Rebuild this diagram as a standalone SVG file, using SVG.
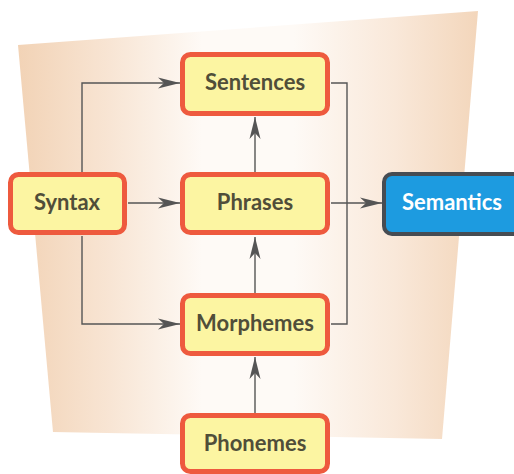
<svg xmlns="http://www.w3.org/2000/svg" width="514" height="474" viewBox="0 0 514 474">
  <defs>
    <linearGradient id="bgGrad" x1="18" y1="0" x2="478" y2="0" gradientUnits="userSpaceOnUse">
      <stop offset="0" stop-color="#f2d3b6"/>
      <stop offset="0.2" stop-color="#f8e5d4"/>
      <stop offset="0.4" stop-color="#fefaf6"/>
      <stop offset="0.6" stop-color="#fefaf6"/>
      <stop offset="0.82" stop-color="#f9e8d9"/>
      <stop offset="1" stop-color="#f3d6bb"/>
    </linearGradient>
    <marker id="arrow" viewBox="-23 -6 24 12" refX="0" refY="0" markerWidth="24" markerHeight="12" markerUnits="userSpaceOnUse" orient="auto">
      <path d="M0,0 L-22,-5.5 L-16,0 L-22,5.5 Z" fill="#555555"/>
    </marker>
    <style>
      .box rect { fill: #fcf5a2; stroke: #ee5a3e; stroke-width: 5; }
      .box text { font-family: "Lato", "Open Sans", sans-serif; font-weight: bold; font-size: 22px; fill: #504e39; text-anchor: middle; }
      .sem rect { fill: #1d9be0; stroke: #474c52; stroke-width: 4; }
      .sem text { font-family: "Lato", "Open Sans", sans-serif; font-weight: bold; font-size: 22px; fill: #ffffff; text-anchor: middle; }
      .conn path { fill: none; stroke: #555555; stroke-width: 1.4; }
    </style>
  </defs>

  <!-- backdrop panel -->
  <polygon points="18,45 478,11 442,439 53,432" fill="url(#bgGrad)"/>

  <!-- connectors -->
  <g id="connectors" class="conn">
    <path d="M82,172 V83 H180" marker-end="url(#arrow)"/>
    <path d="M128,203 H180" marker-end="url(#arrow)"/>
    <path d="M82,236 V324 H180" marker-end="url(#arrow)"/>
    <path d="M255,172 V117" marker-end="url(#arrow)"/>
    <path d="M255,293 V237" marker-end="url(#arrow)"/>
    <path d="M255,413 V357" marker-end="url(#arrow)"/>
    <path d="M331,83 H347 V324 H331"/>
    <path d="M331,203 H382" marker-end="url(#arrow)"/>
  </g>

  <!-- nodes -->
  <g id="sentences" class="box">
    <rect x="182.5" y="54.5" width="145" height="59" rx="8"/>
    <text x="255" y="90">Sentences</text>
  </g>
  <g id="syntax" class="box">
    <rect x="10.5" y="174.5" width="114" height="58" rx="8"/>
    <text x="67" y="210">Syntax</text>
  </g>
  <g id="phrases" class="box">
    <rect x="182.5" y="174.5" width="145" height="58" rx="8"/>
    <text x="255" y="210">Phrases</text>
  </g>
  <g id="semantics" class="sem">
    <rect x="384" y="174" width="140" height="60" rx="8"/>
    <text x="452" y="210">Semantics</text>
  </g>
  <g id="morphemes" class="box">
    <rect x="182.5" y="295.5" width="145" height="58" rx="8"/>
    <text x="255" y="331">Morphemes</text>
  </g>
  <g id="phonemes" class="box">
    <rect x="182.5" y="415.5" width="145" height="56" rx="8"/>
    <text x="255" y="451">Phonemes</text>
  </g>
</svg>
